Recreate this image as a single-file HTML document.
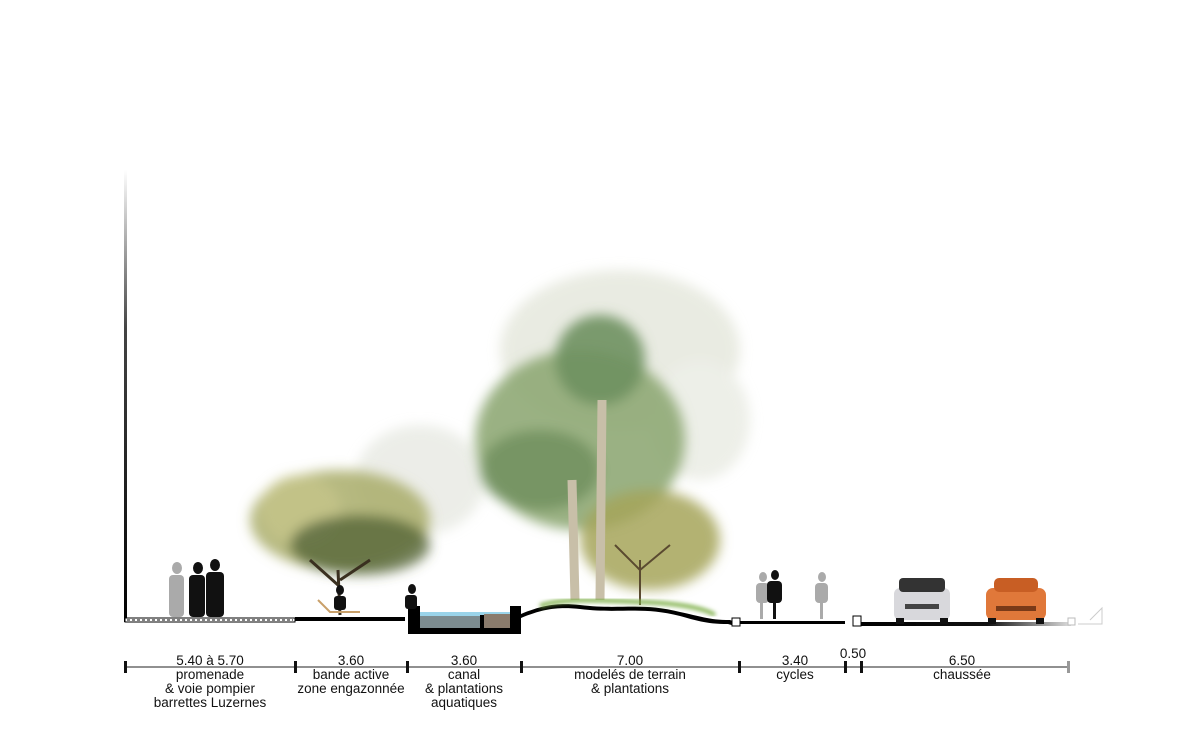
<!DOCTYPE html>
<html><head><meta charset="utf-8"><style>
html,body{margin:0;padding:0;background:#fff}
svg{display:block}
text{font-family:"Liberation Sans",Arial,sans-serif;font-size:13.5px;fill:#111;text-anchor:middle}
</style></head><body>
<svg width="1200" height="754" viewBox="0 0 1200 754" xmlns="http://www.w3.org/2000/svg">
<defs>
<linearGradient id="wall" x1="0" y1="0" x2="0" y2="1">
<stop offset="0" stop-color="#fff"/><stop offset="0.35" stop-color="#444"/><stop offset="1" stop-color="#000"/></linearGradient>
<linearGradient id="road" x1="0" y1="0" x2="1" y2="0">
<stop offset="0" stop-color="#000"/><stop offset="0.6" stop-color="#111"/><stop offset="1" stop-color="#ddd"/></linearGradient>
<filter id="b" x="-20%" y="-20%" width="140%" height="140%"><feGaussianBlur stdDeviation="6"/></filter>
<filter id="b2"><feGaussianBlur stdDeviation="2"/></filter>
</defs>
<rect x="124" y="170" width="3" height="452" fill="url(#wall)"/>

<g filter="url(#b)" opacity="0.55">
<ellipse cx="620" cy="350" rx="120" ry="80" fill="#d8dccb"/>
<ellipse cx="700" cy="420" rx="50" ry="60" fill="#dfe2d6"/>
<ellipse cx="420" cy="480" rx="65" ry="55" fill="#dde0d6"/>
</g>
<g filter="url(#b)">
<ellipse cx="340" cy="520" rx="90" ry="50" fill="#a9ad6a" opacity="0.85"/>
<ellipse cx="300" cy="510" rx="40" ry="35" fill="#c6c58a" opacity="0.8"/>
<ellipse cx="360" cy="545" rx="70" ry="30" fill="#56663a" opacity="0.8"/>
</g>
<path d="M340 615 L338 570 M338 585 L310 560 M340 580 L370 560" stroke="#3a3020" stroke-width="3" fill="none"/>
<g filter="url(#b)">
<ellipse cx="580" cy="440" rx="105" ry="90" fill="#8fa875" opacity="0.9"/>
<ellipse cx="600" cy="360" rx="45" ry="45" fill="#6f9160" opacity="0.9"/>
<ellipse cx="540" cy="470" rx="60" ry="40" fill="#6e8f5e" opacity="0.8"/>
<ellipse cx="650" cy="540" rx="70" ry="50" fill="#a6a45a" opacity="0.85"/>
</g>
<path d="M575 600 L572 480 M600 600 L602 400" stroke="#c8bfa8" stroke-width="9" fill="none"/>
<path d="M640 605 L640 560 M640 570 L615 545 M640 570 L670 545" stroke="#5a4a30" stroke-width="2" fill="none"/>

<rect x="125" y="618" width="170" height="4" fill="#fff" stroke="#000" stroke-width="1"/>
<path d="M127 620 H293" stroke="#000" stroke-width="1" stroke-dasharray="3,2"/>
<rect x="295" y="617" width="110" height="4" fill="#000"/>
<path d="M408 606 H420 V628 H510 V606 H521 V634 H408 Z" fill="#000"/>
<rect x="420" y="612" width="90" height="4" fill="#9ad4ea"/>
<rect x="420" y="616" width="60" height="12" fill="#7c8c90"/>
<rect x="484" y="614" width="26" height="14" fill="#8a7b6c"/>
<rect x="480" y="615" width="4" height="13" fill="#000"/>
<path d="M521 614 C545 604 560 603 580 605 C620 610 640 602 680 612 C700 616 708 620 730 620 L735 622 L735 626 L728 624 C705 624 695 620 680 616 C640 606 620 614 580 609 C560 607 545 608 521 618 Z" fill="#000"/>
<path d="M540 606 C560 598 600 600 640 602 C670 603 700 606 715 615" stroke="#7fb04a" stroke-width="4" fill="none" filter="url(#b2)"/>
<rect x="732" y="618" width="8" height="8" fill="#fff" stroke="#000"/>
<rect x="740" y="621" width="105" height="3" fill="#000"/>
<rect x="853" y="616" width="8" height="10" fill="#fff" stroke="#000"/>
<rect x="861" y="622" width="210" height="4" fill="url(#road)"/>
<rect x="1068" y="618" width="7" height="7" fill="#fff" stroke="#bbb"/>
<path d="M1078 624 H1102 V608 L1090 620" stroke="#ccc" fill="none"/>

<g fill="#aaa"><ellipse cx="177" cy="568" rx="5" ry="6"/><rect x="169" y="575" width="15" height="42" rx="4"/></g>
<g fill="#111"><ellipse cx="198" cy="568" rx="5" ry="6"/><rect x="189" y="575" width="16" height="42" rx="4"/>
<ellipse cx="215" cy="565" rx="5" ry="6"/><rect x="206" y="572" width="18" height="45" rx="4"/>
<ellipse cx="340" cy="590" rx="4" ry="5"/><rect x="334" y="596" width="12" height="14" rx="3"/>
<ellipse cx="412" cy="589" rx="4" ry="5"/><rect x="405" y="595" width="12" height="14" rx="3"/></g>
<path d="M318 600 L330 612 H360" stroke="#c9a06a" stroke-width="2" fill="none"/>
<g fill="#aaa"><ellipse cx="763" cy="577" rx="4" ry="5"/><rect x="756" y="583" width="13" height="20" rx="4"/><rect x="760" y="603" width="3" height="16"/>
<ellipse cx="822" cy="577" rx="4" ry="5"/><rect x="815" y="583" width="13" height="20" rx="4"/><rect x="820" y="603" width="3" height="16"/></g>
<g fill="#111"><ellipse cx="775" cy="575" rx="4" ry="5"/><rect x="767" y="581" width="15" height="22" rx="4"/><rect x="773" y="603" width="3" height="16"/></g>
<g><rect x="894" y="588" width="56" height="32" rx="6" fill="#d8d8dc"/><rect x="899" y="578" width="46" height="14" rx="4" fill="#333"/><rect x="905" y="604" width="34" height="5" fill="#444"/><rect x="896" y="618" width="8" height="6" fill="#111"/><rect x="940" y="618" width="8" height="6" fill="#111"/></g>
<g><rect x="986" y="588" width="60" height="32" rx="7" fill="#e0783a"/><rect x="994" y="578" width="44" height="14" rx="5" fill="#c85e24"/><rect x="996" y="606" width="40" height="5" fill="#7a3a18"/><rect x="988" y="618" width="8" height="6" fill="#111"/><rect x="1036" y="618" width="8" height="6" fill="#111"/></g>

<line x1="125" y1="667" x2="1069" y2="667" stroke="#222" stroke-width="1"/>
<g fill="#111">
<rect x="124" y="661" width="3" height="12"/><rect x="294" y="661" width="3" height="12"/>
<rect x="406" y="661" width="3" height="12"/><rect x="520" y="661" width="3" height="12"/>
<rect x="738" y="661" width="3" height="12"/><rect x="844" y="661" width="3" height="12"/>
<rect x="860" y="661" width="3" height="12"/></g>
<rect x="1067" y="661" width="3" height="12" fill="#999"/>
<text x="210" y="665">5.40 à 5.70</text><text x="210" y="679">promenade</text><text x="210" y="693">&amp; voie pompier</text><text x="210" y="707">barrettes Luzernes</text>
<text x="351" y="665">3.60</text><text x="351" y="679">bande active</text><text x="351" y="693">zone engazonnée</text>
<text x="464" y="665">3.60</text><text x="464" y="679">canal</text><text x="464" y="693">&amp; plantations</text><text x="464" y="707">aquatiques</text>
<text x="630" y="665">7.00</text><text x="630" y="679">modelés de terrain</text><text x="630" y="693">&amp; plantations</text>
<text x="795" y="665">3.40</text><text x="795" y="679">cycles</text>
<text x="853" y="658">0.50</text>
<text x="962" y="665">6.50</text><text x="962" y="679">chaussée</text>
</svg>
</body></html>
